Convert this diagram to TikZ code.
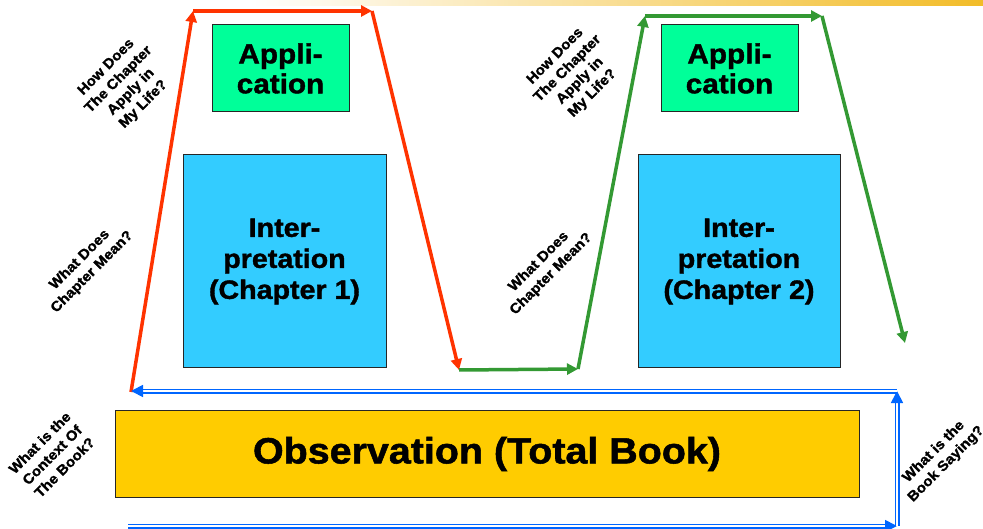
\documentclass[tikz,border=0pt]{standalone}
\usepackage{fontspec}
\setmainfont{Liberation Sans}[BoldFont={Liberation Sans Bold}, FakeStretch=1.08, FakeBold=1.4]
\usetikzlibrary{arrows.meta}
\definecolor{appgreen}{RGB}{0,255,153}
\definecolor{intblue}{RGB}{51,204,255}
\definecolor{obsyellow}{RGB}{255,204,0}
\definecolor{redpath}{RGB}{255,51,0}
\definecolor{greenpath}{RGB}{51,153,51}
\definecolor{bluepath}{RGB}{0,102,255}
\definecolor{bandgold}{RGB}{242,188,40}

\begin{document}
\begin{tikzpicture}[x=1pt, y=-1pt,
    box/.style = {draw=black!85, line width=1pt, inner sep=0pt, align=center},
    ask/.style = {font=\bfseries\fontsize{14}{17.5}\selectfont,
                  align=center, rotate=45, inner sep=0pt},
    redarr/.style = {redpath, line width=3.5pt,
                  -{Triangle[length=11pt,width=11pt]}},
    grnarr/.style = {greenpath, line width=3.5pt,
                  -{Triangle[length=11pt,width=11pt]}},
    bluarr/.style = {draw=bluepath, line width=1.7pt, double=white,
                  double distance=1.6pt, -{Triangle[length=12pt,width=12pt]}}
                    ]
        \useasboundingbox (0,0) rectangle (983,529);
        % slide band at the top
        \shade[left color=white, right color=bandgold] (250,0) rectangle (983,6);

        % boxes
        \node[box, fill=appgreen, minimum width=137, minimum height=87,
              font=\bfseries\fontsize{27.5}{30}\selectfont] (app1) at (280.5,68.5) {Appli-\\cation};
        \node[box, fill=appgreen, minimum width=137, minimum height=87,
              font=\bfseries\fontsize{27.5}{30}\selectfont] (app2) at (729.5,68.5) {Appli-\\cation};
        \node[box, fill=intblue, minimum width=203, minimum height=213,
              font=\bfseries\fontsize{26.5}{31}\selectfont] (int1) at (284.5,261.5) {Inter-\\pretation\\(Chapter 1)};
        \node[box, fill=intblue, minimum width=202, minimum height=213,
              font=\bfseries\fontsize{26.5}{31}\selectfont] (int2) at (739,261.5) {Inter-\\pretation\\(Chapter 2)};
        \node[box, fill=obsyellow, minimum width=744, minimum height=87,
              font=\bfseries\fontsize{36.5}{40}\selectfont] (obs) at (487,454) {Observation (Total Book)};

        % corners of the paths
        \foreach \x/\y/\p in {131/392/r0, 193/11/r1, 372/11/r2, 459/370/g0,
                              578/369/g1, 645/16/g2, 822/16/g3, 905/343/g4,
                              128/526/b0, 897/526/b1, 897/391/b2, 131/391/b3}
            \coordinate (\p) at (\x,\y);

        % chapter 1
        \draw[redarr] (r0) -- (r1);
        \draw[redarr] (r1) -- (r2);
        \draw[redarr] (r2) -- (g0);
        % chapter 2
        \foreach \a/\b in {g0/g1, g1/g2, g2/g3, g3/g4}
            \draw[grnarr] (\a) -- (\b);
        % whole book
        \draw[bluarr] (b0) -- (b1);
        \draw[bluarr] (b1) -- (b2);
        \draw[bluarr] (b2) -- (b3);

        % questions
        \node[ask] (qapp1) at (125,86) {How Does\\The Chapter\\Apply in\\My Life?};
        \node[ask] (qapp2) at (574,75) {How Does\\The Chapter\\Apply in\\My Life?};
        \node[ask] (qint1) at (86,266) {What Does\\Chapter Mean?};
        \node[ask] (qint2) at (545,268) {What Does\\Chapter Mean?};
        \node[ask] (qctx) at (52,455) {What is the\\Context Of\\The Book?};
        \node[ask] (qsay) at (940,458) {What is the\\Book Saying?};
    \end{tikzpicture}
\end{document}
